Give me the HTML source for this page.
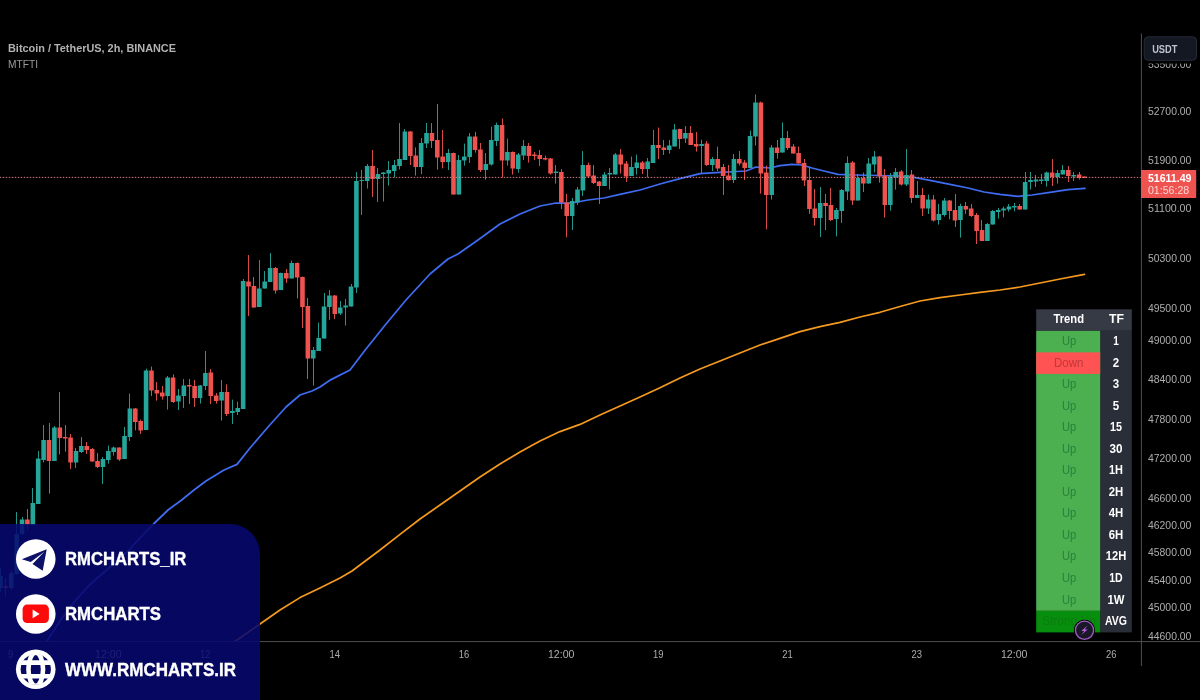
<!DOCTYPE html>
<html lang="en"><head><meta charset="utf-8"><title>Bitcoin / TetherUS, 2h, BINANCE</title>
<style>
html,body{margin:0;padding:0;background:#000;}
body{width:1200px;height:700px;overflow:hidden;position:relative;}
svg{display:block;position:absolute;left:0;top:0;}
text{font-family:"Liberation Sans",sans-serif;}
</style></head><body>
<svg width="1200" height="700" viewBox="0 0 1200 700">
<defs><clipPath id="gc"><circle r="15.5"/></clipPath>
<clipPath id="pane"><rect x="0" y="0" width="1141" height="641"/></clipPath></defs>
<rect width="1200" height="700" fill="#000"/>
<g clip-path="url(#pane)">
<polyline points="235,641.5 240,638 260,624 280,610 300,597.6 320,588 340,578 352,571 360,565 380,550 400,534.4 420,519 440,505 460,491 480,477 500,464 520,452 540,441 560,431.6 580,424.4 600,415 620,406 640,397 660,387.8 680,378 700,369 720,361 740,353 760,345 780,338.4 800,331.6 820,326.6 840,322.4 860,317 880,312.3 900,306.5 920,301 940,297.6 960,295 980,292.4 1000,290 1020,287 1040,283 1060,279 1084.5,274.4" fill="none" stroke="#f59a1e" stroke-width="1.7" stroke-linejoin="round" stroke-linecap="round"/>
<polyline points="47,641 60,621 72.5,604 87,587.5 96,579 105,571.5 116,561.5 128,551 140,538 154,523.5 168,510 181,500.5 194,490 206,481 224,470 237,464.4 250,448 268,427 286,407 300,395 312,391 320,387 331,379.6 350,370 366,349 386,324 406,300 430,274 448,259 458,254 478,240 500,224 520,214 540,206 556,203 572,203 588,200 604,198 620,194.4 640,190 660,184 680,178.6 700,173.6 720,172.4 746,171 756,167 770,168 780,165.6 792,164.4 802,165 812,168 824,171 838,174.4 856,175 880,175.5 900,176 914,177.4 930,180.4 950,184.4 968,188 984,192 1000,194.4 1018,196.4 1032,195 1050,192.4 1068,189.6 1085,188.4" fill="none" stroke="#3f6cf2" stroke-width="1.75" stroke-linejoin="round" stroke-linecap="round"/>
<path d="M0.5 568V592M11.5 570V590M16.5 512V575M22.5 517V535M32.5 488V525M38.5 451V504M43.5 425V462.4M54.5 426V461M75.5 448V468M81.5 437V453M102.5 457V484M108.5 445.6V463.6M113.5 446.6V455.6M124.5 427V459M129.5 393.6V441M146.5 368.6V430M167.5 376V409.6M178.5 389V410M183.5 379V408M200.5 385V403.6M205.5 351V390M221.5 380V420.6M232.5 399.6V424M237.5 401.6V415M243.5 279V409M259.5 260V307M264.5 271V288.6M270.5 253V282M280.5 272.6V290M291.5 260.6V278.4M313.5 347V385.6M318.5 322.6V351M324.5 293V338.6M329.5 290V320M340.5 301V315M345.5 299V325.6M351.5 284V306.6M356.5 172V293M361.5 170V215M367.5 164V188.6M377.5 168V202M383.5 172V201.6M388.5 161V185.6M394.5 160V177.4M399.5 123V169.4M404.5 129V160M421.5 138V174M426.5 123V148M448.5 149V170M458.5 155V194.6M464.5 143.6V165.6M469.5 133V163M485.5 153V179.6M491.5 126.6V165.6M496.5 122.6V146M507.5 138.6V165.6M518.5 153V172.6M523.5 140V160M555.5 165V183.6M572.5 198V230M577.5 187V205M582.5 151V196M604.5 172V186M609.5 168V189.6M615.5 153V174.4M631.5 156.6V176M636.5 154.6V174.6M647.5 158V177.4M653.5 130V163M669.5 140V153.6M674.5 124V146.4M685.5 126V143M701.5 139.6V173M712.5 157V171M733.5 154V183M750.5 130.6V168M755.5 94.4V145.6M771.5 145V199.6M782.5 122.4V152.6M820.5 187V237M836.5 208V236.4M841.5 189V223M847.5 156.4V200M857.5 174V200.6M868.5 158V183.6M874.5 151V172.4M890.5 173V210.6M895.5 168V189.6M906.5 149V186M917.5 181V198M928.5 194.6V214M938.5 204V224.6M944.5 198V216.6M960.5 203.6V237.6M987.5 223V241M992.5 210V224.6M998.5 208V218.6M1003.5 206.6V217.4M1008.5 204V211.6M1014.5 203V211.4M1025.5 172V209.6M1030.5 172V189.6M1035.5 175V187M1041.5 174V184M1046.5 171.6V186.6M1057.5 170V183.6M1062.5 165V174.4M1073.5 172V181" stroke="#26a69a" stroke-width="1.0" fill="none" opacity="0.9"/><path d="M5.5 578V596M27.5 509V530M49.5 423V493.6M59.5 392V454.4M65.5 425V451.6M70.5 434V469M86.5 442V454M92.5 448V461.6M97.5 453V468M119.5 447.4V461M135.5 408V430.4M140.5 419.6V434M151.5 366.6V396M156.5 382V400.6M162.5 386V399.6M173.5 374.4V403M189.5 379V404M194.5 380V407M210.5 369V404M216.5 393V403.6M226.5 384.4V416M248.5 255V316M253.5 277V307.6M275.5 267V293.6M286.5 269V283M297.5 262.4V298.4M302.5 276.6V328M307.5 298V379M334.5 295V319M372.5 150V197M410.5 131V165M415.5 147.4V175.6M431.5 123V148M437.5 104V169.6M442.5 130V168.4M453.5 152.6V194.6M475.5 132V152.6M480.5 143V172M502.5 118.6V177.6M512.5 151.4V174.6M528.5 143V162.6M534.5 152V160M539.5 150V166M545.5 155.6V160.4M550.5 158V174.6M561.5 169V209M566.5 194V237.4M588.5 162.6V178M593.5 165V184M599.5 181V204M620.5 149V173.6M626.5 161V182M642.5 161V174M658.5 127.6V159M663.5 140V155M679.5 128.6V149M690.5 126V145M696.5 132V151.6M706.5 141V166M717.5 146.6V171M723.5 164V195M728.5 165V180.6M739.5 151V165.6M744.5 160V180M760.5 101.6V193.6M766.5 165.6V229.4M777.5 140V158.6M787.5 131V150M793.5 144V153.6M798.5 146.6V163.6M804.5 159V186M809.5 167V214M814.5 189V225.6M825.5 194V230M830.5 188V221M852.5 161V205M863.5 172.6V192M879.5 156V182.6M884.5 169V217.6M901.5 170V185.6M911.5 170V203M922.5 188V216M933.5 195V221.6M949.5 200V219.4M955.5 194V227M965.5 202V214M971.5 204V217M976.5 213V244M981.5 220V241M1019.5 204V209.6M1052.5 159V186M1068.5 166V182M1079.5 172V179.6M1084.5 176.6V178" stroke="#ef5350" stroke-width="1.0" fill="none" opacity="0.9"/><path d="M-1.83 576h4.6v12h-4.6zM8.96 573h4.6v15h-4.6zM14.35 534h4.6v40h-4.6zM19.74 519.6h4.6v14.4h-4.6zM30.53 503h4.6v22h-4.6zM35.92 458.6h4.6v45.4h-4.6zM41.31 440h4.6v20h-4.6zM52.1 427.6h4.6v33.4h-4.6zM73.67 451h4.6v11.6h-4.6zM79.06 446h4.6v6h-4.6zM100.64 459h4.6v8h-4.6zM106.03 451h4.6v9h-4.6zM111.42 447.4h4.6v4.6h-4.6zM122.21 436h4.6v23h-4.6zM127.6 408.6h4.6v28.4h-4.6zM143.78 370.6h4.6v59.4h-4.6zM165.35 377.6h4.6v18.4h-4.6zM176.14 395.4h4.6v6.2h-4.6zM181.53 385.4h4.6v10.6h-4.6zM197.71 385.6h4.6v12.4h-4.6zM203.1 373h4.6v13h-4.6zM219.28 392h4.6v8.4h-4.6zM230.07 411h4.6v2h-4.6zM235.46 408h4.6v4h-4.6zM240.85 281h4.6v128h-4.6zM257.03 288.6h4.6v18.4h-4.6zM262.43 281.4h4.6v7.2h-4.6zM267.82 268h4.6v14h-4.6zM278.61 273h4.6v17h-4.6zM289.39 263h4.6v15.4h-4.6zM310.96 350h4.6v8.6h-4.6zM316.36 338h4.6v13h-4.6zM321.75 306.4h4.6v32.2h-4.6zM327.14 295.6h4.6v11.4h-4.6zM337.93 307.4h4.6v6.2h-4.6zM343.32 305.6h4.6v2h-4.6zM348.71 286.4h4.6v20.2h-4.6zM354.11 181h4.6v106.4h-4.6zM359.5 179.9h4.6v1.2h-4.6zM364.89 166h4.6v15h-4.6zM375.68 174h4.6v5h-4.6zM381.07 172.4h4.6v1.6h-4.6zM386.47 170h4.6v3.6h-4.6zM391.86 165h4.6v6h-4.6zM397.25 159h4.6v7h-4.6zM402.64 131.6h4.6v28.4h-4.6zM418.82 143h4.6v24h-4.6zM424.22 133h4.6v10.6h-4.6zM445.79 153h4.6v9h-4.6zM456.57 160h4.6v34.6h-4.6zM461.97 156.6h4.6v4h-4.6zM467.36 136.6h4.6v20.4h-4.6zM483.54 164h4.6v6h-4.6zM488.93 140h4.6v24.6h-4.6zM494.33 125h4.6v16h-4.6zM505.11 152h4.6v8.6h-4.6zM515.9 154.6h4.6v14.4h-4.6zM521.29 146h4.6v9.4h-4.6zM553.65 171.6h4.6v1.4h-4.6zM569.83 201h4.6v15h-4.6zM575.22 189.6h4.6v13h-4.6zM580.61 165h4.6v25.4h-4.6zM602.19 174.4h4.6v11.6h-4.6zM607.58 173h4.6v1.4h-4.6zM612.97 154.4h4.6v20h-4.6zM629.15 167h4.6v9h-4.6zM634.54 162.6h4.6v5.4h-4.6zM645.33 161.6h4.6v7.4h-4.6zM650.72 145h4.6v18h-4.6zM666.9 145.6h4.6v4.4h-4.6zM672.3 129.4h4.6v17h-4.6zM683.08 133h4.6v5.6h-4.6zM699.26 144h4.6v2h-4.6zM710.05 159h4.6v6h-4.6zM731.62 159h4.6v21h-4.6zM747.8 136h4.6v32h-4.6zM753.19 102.6h4.6v34h-4.6zM769.37 147.6h4.6v47.4h-4.6zM780.16 138h4.6v14.6h-4.6zM817.91 203h4.6v15h-4.6zM834.09 210h4.6v9h-4.6zM839.48 190h4.6v21h-4.6zM844.87 163h4.6v28.6h-4.6zM855.66 178h4.6v22.6h-4.6zM866.44 163.6h4.6v20h-4.6zM871.84 156.4h4.6v8h-4.6zM888.01 176.4h4.6v28.6h-4.6zM893.41 172h4.6v5.6h-4.6zM904.19 175h4.6v9.4h-4.6zM914.98 195h4.6v3h-4.6zM925.77 199.4h4.6v9.2h-4.6zM936.55 214h4.6v6h-4.6zM941.95 200.4h4.6v14.6h-4.6zM958.12 206h4.6v14h-4.6zM985.09 224h4.6v17h-4.6zM990.48 211h4.6v13.6h-4.6zM995.88 210h4.6v2h-4.6zM1001.27 208.6h4.6v2h-4.6zM1006.66 206.4h4.6v3.2h-4.6zM1012.05 206h4.6v1.6h-4.6zM1022.84 182h4.6v27.6h-4.6zM1028.23 180h4.6v2h-4.6zM1033.63 179.6h4.6v1.8h-4.6zM1039.02 179.6h4.6v1.4h-4.6zM1044.41 172.6h4.6v8.4h-4.6zM1055.2 173h4.6v4h-4.6zM1060.59 170h4.6v4.4h-4.6zM1071.38 175h4.6v1.4h-4.6z" fill="#26a69a"/><path d="M3.56 586h4.6v2h-4.6zM25.13 519.6h4.6v5.4h-4.6zM46.71 440h4.6v21h-4.6zM57.49 427.6h4.6v10.4h-4.6zM62.89 437h4.6v1.5h-4.6zM68.28 437.6h4.6v25h-4.6zM84.46 446h4.6v4h-4.6zM89.85 449h4.6v12.6h-4.6zM95.24 461h4.6v6h-4.6zM116.82 447.4h4.6v12h-4.6zM132.99 408.6h4.6v13.4h-4.6zM138.39 421h4.6v9.4h-4.6zM149.17 370.6h4.6v20h-4.6zM154.57 390h4.6v3.6h-4.6zM159.96 392.6h4.6v3.8h-4.6zM170.75 377.6h4.6v24.4h-4.6zM186.92 385h4.6v1.4h-4.6zM192.32 386h4.6v12h-4.6zM208.5 372.6h4.6v23.4h-4.6zM213.89 395.4h4.6v5.6h-4.6zM224.68 392h4.6v22h-4.6zM246.25 281.4h4.6v5h-4.6zM251.64 286h4.6v21.6h-4.6zM273.21 268h4.6v22.4h-4.6zM284 273h4.6v5.4h-4.6zM294.79 263h4.6v14.4h-4.6zM300.18 277h4.6v30h-4.6zM305.57 306h4.6v52.6h-4.6zM332.54 295.6h4.6v18.4h-4.6zM370.29 166h4.6v13h-4.6zM408.04 131.6h4.6v24.4h-4.6zM413.43 155.6h4.6v11.4h-4.6zM429.61 133h4.6v8h-4.6zM435 140h4.6v17.4h-4.6zM440.4 156.6h4.6v5.4h-4.6zM451.18 153h4.6v41.6h-4.6zM472.75 136.6h4.6v13.4h-4.6zM478.15 149.4h4.6v20.6h-4.6zM499.72 125h4.6v35.6h-4.6zM510.51 152h4.6v16.6h-4.6zM526.68 146h4.6v10h-4.6zM532.08 154.6h4.6v1.4h-4.6zM537.47 155h4.6v4h-4.6zM542.86 158h4.6v1.4h-4.6zM548.26 158.4h4.6v15.2h-4.6zM559.04 172h4.6v30.6h-4.6zM564.44 202.6h4.6v13.4h-4.6zM586.01 165h4.6v11.6h-4.6zM591.4 175.4h4.6v7.6h-4.6zM596.79 181.4h4.6v4.6h-4.6zM618.37 154.6h4.6v10h-4.6zM623.76 163.6h4.6v12.8h-4.6zM639.94 162.6h4.6v6.4h-4.6zM656.12 145h4.6v3h-4.6zM661.51 147.4h4.6v2.6h-4.6zM677.69 129h4.6v10h-4.6zM688.47 133h4.6v12h-4.6zM693.87 144h4.6v2.6h-4.6zM704.65 143.6h4.6v21.4h-4.6zM715.44 159h4.6v9.4h-4.6zM720.83 167h4.6v9h-4.6zM726.23 175.4h4.6v4.6h-4.6zM737.01 159h4.6v4.6h-4.6zM742.4 162.6h4.6v5.4h-4.6zM758.58 102.6h4.6v71h-4.6zM763.98 172.6h4.6v22.4h-4.6zM774.76 147.4h4.6v5.6h-4.6zM785.55 138h4.6v10h-4.6zM790.94 146.6h4.6v7h-4.6zM796.33 153h4.6v10.6h-4.6zM801.73 163h4.6v17.6h-4.6zM807.12 180h4.6v29h-4.6zM812.51 208.6h4.6v9.4h-4.6zM823.3 203h4.6v3h-4.6zM828.69 205h4.6v15h-4.6zM850.26 162.6h4.6v38h-4.6zM861.05 178h4.6v5.6h-4.6zM877.23 156.4h4.6v20.2h-4.6zM882.62 176h4.6v29h-4.6zM898.8 171.6h4.6v12.8h-4.6zM909.59 174.4h4.6v23.6h-4.6zM920.37 195h4.6v13.6h-4.6zM931.16 199.4h4.6v21.2h-4.6zM947.34 200.4h4.6v10.6h-4.6zM952.73 210h4.6v10.4h-4.6zM963.52 206h4.6v3.6h-4.6zM968.91 208.6h4.6v7.4h-4.6zM974.3 215h4.6v16h-4.6zM979.7 230h4.6v11h-4.6zM1017.45 206h4.6v3.6h-4.6zM1049.81 172.6h4.6v4.4h-4.6zM1065.98 170h4.6v6h-4.6zM1076.77 174.4h4.6v3.6h-4.6zM1082.16 176.6h4.6v1.4h-4.6z" fill="#ef5350"/>
</g>
<!-- price line -->
<path d="M0 177.4H1141" stroke="#ef5350" stroke-width="1" opacity="0.28"/><path d="M0 177.4H1141" stroke="#d6b2b2" stroke-width="1" stroke-dasharray="1 2" opacity="0.7"/>

<!-- axes -->
<path d="M1141.4 33.5V666" stroke="#505050" stroke-width="1"/>
<path d="M0 641.6H1200" stroke="#505050" stroke-width="1"/>
<text x="1148" y="67.8" font-size="10.6" fill="#adadad" font-weight="normal" text-anchor="start" textLength="43.4" lengthAdjust="spacingAndGlyphs">53500.00</text><text x="1148" y="115" font-size="10.6" fill="#adadad" font-weight="normal" text-anchor="start" textLength="43.4" lengthAdjust="spacingAndGlyphs">52700.00</text><text x="1148" y="163.6" font-size="10.6" fill="#adadad" font-weight="normal" text-anchor="start" textLength="43.4" lengthAdjust="spacingAndGlyphs">51900.00</text><text x="1148" y="212" font-size="10.6" fill="#adadad" font-weight="normal" text-anchor="start" textLength="43.4" lengthAdjust="spacingAndGlyphs">51100.00</text><text x="1148" y="261.6" font-size="10.6" fill="#adadad" font-weight="normal" text-anchor="start" textLength="43.4" lengthAdjust="spacingAndGlyphs">50300.00</text><text x="1148" y="312" font-size="10.6" fill="#adadad" font-weight="normal" text-anchor="start" textLength="43.4" lengthAdjust="spacingAndGlyphs">49500.00</text><text x="1148" y="344" font-size="10.6" fill="#adadad" font-weight="normal" text-anchor="start" textLength="43.4" lengthAdjust="spacingAndGlyphs">49000.00</text><text x="1148" y="383" font-size="10.6" fill="#adadad" font-weight="normal" text-anchor="start" textLength="43.4" lengthAdjust="spacingAndGlyphs">48400.00</text><text x="1148" y="422.6" font-size="10.6" fill="#adadad" font-weight="normal" text-anchor="start" textLength="43.4" lengthAdjust="spacingAndGlyphs">47800.00</text><text x="1148" y="462" font-size="10.6" fill="#adadad" font-weight="normal" text-anchor="start" textLength="43.4" lengthAdjust="spacingAndGlyphs">47200.00</text><text x="1148" y="502" font-size="10.6" fill="#adadad" font-weight="normal" text-anchor="start" textLength="43.4" lengthAdjust="spacingAndGlyphs">46600.00</text><text x="1148" y="529" font-size="10.6" fill="#adadad" font-weight="normal" text-anchor="start" textLength="43.4" lengthAdjust="spacingAndGlyphs">46200.00</text><text x="1148" y="556" font-size="10.6" fill="#adadad" font-weight="normal" text-anchor="start" textLength="43.4" lengthAdjust="spacingAndGlyphs">45800.00</text><text x="1148" y="583.6" font-size="10.6" fill="#adadad" font-weight="normal" text-anchor="start" textLength="43.4" lengthAdjust="spacingAndGlyphs">45400.00</text><text x="1148" y="611.2" font-size="10.6" fill="#adadad" font-weight="normal" text-anchor="start" textLength="43.4" lengthAdjust="spacingAndGlyphs">45000.00</text><text x="1148" y="639.6" font-size="10.6" fill="#adadad" font-weight="normal" text-anchor="start" textLength="43.4" lengthAdjust="spacingAndGlyphs">44600.00</text><text x="7.9" y="657.6" font-size="10.6" fill="#adadad" font-weight="normal" text-anchor="start" textLength="5.2" lengthAdjust="spacingAndGlyphs">9</text><text x="95.05" y="657.6" font-size="10.6" fill="#adadad" font-weight="normal" text-anchor="start" textLength="26.5" lengthAdjust="spacingAndGlyphs">12:00</text><text x="200.05" y="657.6" font-size="10.6" fill="#adadad" font-weight="normal" text-anchor="start" textLength="10.5" lengthAdjust="spacingAndGlyphs">12</text><text x="329.55" y="657.6" font-size="10.6" fill="#adadad" font-weight="normal" text-anchor="start" textLength="10.5" lengthAdjust="spacingAndGlyphs">14</text><text x="458.75" y="657.6" font-size="10.6" fill="#adadad" font-weight="normal" text-anchor="start" textLength="10.5" lengthAdjust="spacingAndGlyphs">16</text><text x="547.95" y="657.6" font-size="10.6" fill="#adadad" font-weight="normal" text-anchor="start" textLength="26.5" lengthAdjust="spacingAndGlyphs">12:00</text><text x="652.95" y="657.6" font-size="10.6" fill="#adadad" font-weight="normal" text-anchor="start" textLength="10.5" lengthAdjust="spacingAndGlyphs">19</text><text x="782.15" y="657.6" font-size="10.6" fill="#adadad" font-weight="normal" text-anchor="start" textLength="10.5" lengthAdjust="spacingAndGlyphs">21</text><text x="911.55" y="657.6" font-size="10.6" fill="#adadad" font-weight="normal" text-anchor="start" textLength="10.5" lengthAdjust="spacingAndGlyphs">23</text><text x="1000.95" y="657.6" font-size="10.6" fill="#adadad" font-weight="normal" text-anchor="start" textLength="26.5" lengthAdjust="spacingAndGlyphs">12:00</text><text x="1105.95" y="657.6" font-size="10.6" fill="#adadad" font-weight="normal" text-anchor="start" textLength="10.5" lengthAdjust="spacingAndGlyphs">26</text>
<rect x="1142" y="50" width="58" height="13.6" fill="#000"/>
<!-- USDT -->
<rect x="1144.2" y="36.8" width="52.3" height="23.5" rx="4" fill="#141823" stroke="#262b38" stroke-width="1"/>
<text x="1152.2" y="52.8" font-size="10.8" fill="#bfc3d0" font-weight="bold" text-anchor="start" textLength="25.2" lengthAdjust="spacingAndGlyphs">USDT</text>
<!-- price tag -->
<rect x="1141" y="170" width="55.2" height="28" fill="#ef5350"/>
<text x="1147.9" y="182" font-size="10.6" fill="#ffffff" font-weight="bold" text-anchor="start" textLength="43.6" lengthAdjust="spacingAndGlyphs">51611.49</text><text x="1147.9" y="194" font-size="10.4" fill="#ffd6d4" font-weight="normal" text-anchor="start" textLength="41.3" lengthAdjust="spacingAndGlyphs">01:56:28</text>
<!-- title -->
<text x="8" y="52" font-size="10.7" fill="#b2b2b2" font-weight="bold" text-anchor="start" textLength="168" lengthAdjust="spacingAndGlyphs">Bitcoin / TetherUS, 2h, BINANCE</text><text x="8" y="67.6" font-size="10.2" fill="#9a9a9a" font-weight="normal" text-anchor="start" textLength="30" lengthAdjust="spacingAndGlyphs">MTFTI</text>
<rect x="1036.2" y="309.3" width="95.6" height="21.54" fill="#363a45"/><rect x="1100.2" y="330.84" width="31.6" height="301.56" fill="#2a2e39"/><rect x="1036.2" y="330.84" width="64" height="280.02" fill="#4caf50"/><rect x="1036.2" y="352.38" width="64" height="21.54" fill="#ff5252"/><rect x="1036.2" y="610.86" width="64" height="21.54" fill="#088e0d"/><text x="1053.5" y="323.3" font-size="12.4" fill="#ffffff" font-weight="bold" text-anchor="start" textLength="30.5" lengthAdjust="spacingAndGlyphs">Trend</text><text x="1109" y="323.3" font-size="12.4" fill="#ffffff" font-weight="bold" text-anchor="start" textLength="15" lengthAdjust="spacingAndGlyphs">TF</text><text x="1113.2" y="345.04" font-size="12.4" fill="#ffffff" font-weight="bold" text-anchor="start" textLength="5.6" lengthAdjust="spacingAndGlyphs">1</text><text x="1062" y="345.04" font-size="12.4" fill="#27823a" font-weight="normal" text-anchor="start" textLength="14.2" lengthAdjust="spacingAndGlyphs">Up</text><text x="1112.8" y="366.58" font-size="12.4" fill="#ffffff" font-weight="bold" text-anchor="start" textLength="6.4" lengthAdjust="spacingAndGlyphs">2</text><text x="1054" y="366.58" font-size="12.4" fill="#c2383b" font-weight="normal" text-anchor="start" textLength="29.5" lengthAdjust="spacingAndGlyphs">Down</text><text x="1112.8" y="388.12" font-size="12.4" fill="#ffffff" font-weight="bold" text-anchor="start" textLength="6.4" lengthAdjust="spacingAndGlyphs">3</text><text x="1062" y="388.12" font-size="12.4" fill="#27823a" font-weight="normal" text-anchor="start" textLength="14.2" lengthAdjust="spacingAndGlyphs">Up</text><text x="1112.8" y="409.66" font-size="12.4" fill="#ffffff" font-weight="bold" text-anchor="start" textLength="6.4" lengthAdjust="spacingAndGlyphs">5</text><text x="1062" y="409.66" font-size="12.4" fill="#27823a" font-weight="normal" text-anchor="start" textLength="14.2" lengthAdjust="spacingAndGlyphs">Up</text><text x="1110" y="431.2" font-size="12.4" fill="#ffffff" font-weight="bold" text-anchor="start" textLength="12" lengthAdjust="spacingAndGlyphs">15</text><text x="1062" y="431.2" font-size="12.4" fill="#27823a" font-weight="normal" text-anchor="start" textLength="14.2" lengthAdjust="spacingAndGlyphs">Up</text><text x="1109.5" y="452.74" font-size="12.4" fill="#ffffff" font-weight="bold" text-anchor="start" textLength="13" lengthAdjust="spacingAndGlyphs">30</text><text x="1062" y="452.74" font-size="12.4" fill="#27823a" font-weight="normal" text-anchor="start" textLength="14.2" lengthAdjust="spacingAndGlyphs">Up</text><text x="1109" y="474.28" font-size="12.4" fill="#ffffff" font-weight="bold" text-anchor="start" textLength="14" lengthAdjust="spacingAndGlyphs">1H</text><text x="1062" y="474.28" font-size="12.4" fill="#27823a" font-weight="normal" text-anchor="start" textLength="14.2" lengthAdjust="spacingAndGlyphs">Up</text><text x="1108.75" y="495.82" font-size="12.4" fill="#ffffff" font-weight="bold" text-anchor="start" textLength="14.5" lengthAdjust="spacingAndGlyphs">2H</text><text x="1062" y="495.82" font-size="12.4" fill="#27823a" font-weight="normal" text-anchor="start" textLength="14.2" lengthAdjust="spacingAndGlyphs">Up</text><text x="1108.75" y="517.36" font-size="12.4" fill="#ffffff" font-weight="bold" text-anchor="start" textLength="14.5" lengthAdjust="spacingAndGlyphs">4H</text><text x="1062" y="517.36" font-size="12.4" fill="#27823a" font-weight="normal" text-anchor="start" textLength="14.2" lengthAdjust="spacingAndGlyphs">Up</text><text x="1108.75" y="538.9" font-size="12.4" fill="#ffffff" font-weight="bold" text-anchor="start" textLength="14.5" lengthAdjust="spacingAndGlyphs">6H</text><text x="1062" y="538.9" font-size="12.4" fill="#27823a" font-weight="normal" text-anchor="start" textLength="14.2" lengthAdjust="spacingAndGlyphs">Up</text><text x="1105.75" y="560.44" font-size="12.4" fill="#ffffff" font-weight="bold" text-anchor="start" textLength="20.5" lengthAdjust="spacingAndGlyphs">12H</text><text x="1062" y="560.44" font-size="12.4" fill="#27823a" font-weight="normal" text-anchor="start" textLength="14.2" lengthAdjust="spacingAndGlyphs">Up</text><text x="1109.25" y="581.98" font-size="12.4" fill="#ffffff" font-weight="bold" text-anchor="start" textLength="13.5" lengthAdjust="spacingAndGlyphs">1D</text><text x="1062" y="581.98" font-size="12.4" fill="#27823a" font-weight="normal" text-anchor="start" textLength="14.2" lengthAdjust="spacingAndGlyphs">Up</text><text x="1107.5" y="603.52" font-size="12.4" fill="#ffffff" font-weight="bold" text-anchor="start" textLength="17" lengthAdjust="spacingAndGlyphs">1W</text><text x="1062" y="603.52" font-size="12.4" fill="#27823a" font-weight="normal" text-anchor="start" textLength="14.2" lengthAdjust="spacingAndGlyphs">Up</text><text x="1105" y="625.06" font-size="12.4" fill="#ffffff" font-weight="bold" text-anchor="start" textLength="22" lengthAdjust="spacingAndGlyphs">AVG</text><text x="1042" y="625.06" font-size="12.4" fill="#0b7d12" font-weight="normal" text-anchor="start" textLength="54" lengthAdjust="spacingAndGlyphs">Strong Up</text><circle cx="1084.5" cy="630.3" r="10.6" fill="#000"/><circle cx="1084.5" cy="630.3" r="9.1" fill="#1a1828" stroke="#a35cc8" stroke-width="1.3"/><path d="M1087.6 625.6L1081.3 630.9h3L1081.1 635 1087.7 629.6h-3z" fill="#b85fe0"/>
<path d="M0 524H230A30 30 0 0 1 260 554V700H0z" fill="#07086e" fill-opacity="0.87"/><circle cx="35.75" cy="559" r="19.8" fill="#fff"/><path d="M21.8 559.2L46.7 549.3 42.7 570.7 32.5 563.9 44.4 551.8 30.7 562z" fill="#0d1168"/><circle cx="35.75" cy="614" r="19.8" fill="#fff"/><rect x="22.6" y="604.6" width="26.3" height="18.4" rx="4.5" fill="#ff0a0a"/><path d="M32.6 609.6v8.6l7-4.3z" fill="#fff"/><g transform="translate(35.75 669.3)"><circle r="19.8" fill="#fff"/><circle r="15.1" fill="#070862"/><g clip-path="url(#gc)" stroke="#fff" fill="none" stroke-width="4.6"><ellipse rx="7.3" ry="16.5"/><path d="M-16 -6.7H16M-16 6.9H16"/></g></g><text x="65" y="565" font-size="17.6" fill="#ffffff" font-weight="bold" text-anchor="start" textLength="121.3" lengthAdjust="spacingAndGlyphs" stroke="#fff" stroke-width="0.35">RMCHARTS_IR</text><text x="65" y="620" font-size="17.6" fill="#ffffff" font-weight="bold" text-anchor="start" textLength="96" lengthAdjust="spacingAndGlyphs" stroke="#fff" stroke-width="0.35">RMCHARTS</text><text x="65" y="676.3" font-size="17.6" fill="#ffffff" font-weight="bold" text-anchor="start" textLength="171" lengthAdjust="spacingAndGlyphs" stroke="#fff" stroke-width="0.35">WWW.RMCHARTS.IR</text>
</svg>
</body></html>
